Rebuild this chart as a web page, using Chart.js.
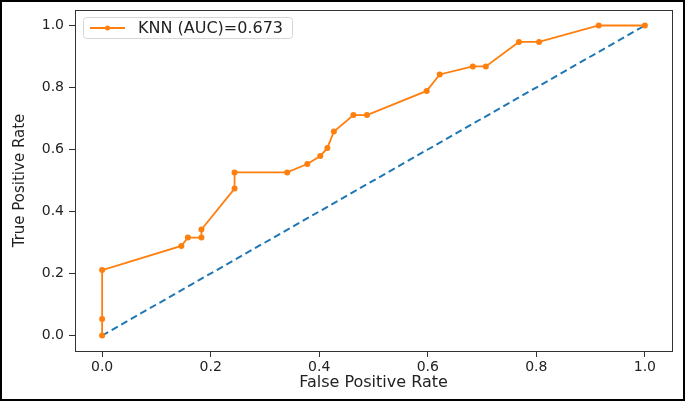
<!DOCTYPE html>
<html>
<head>
<meta charset="utf-8">
<script src="https://cdn.jsdelivr.net/npm/chart.js@4/dist/chart.umd.min.js"></script>
<style>
  html, body { margin: 0; padding: 0; background: #fff; }
  .frame {
    width: 685px;
    height: 401px;
    box-sizing: border-box;
    border: 2px solid #000;
    background: #fff;
  }
  canvas { display: block; }
</style>
</head>
<body>
<div class="frame">
  <canvas id="roc" width="681" height="397"></canvas>
</div>
<script>
// ROC curve
const fpr = [0, 0, 0, 0.146, 0.158, 0.183, 0.183, 0.244, 0.244, 0.341, 0.378, 0.402,
  0.415, 0.427, 0.463, 0.488, 0.598, 0.622, 0.683, 0.707, 0.768, 0.805, 0.915, 1.0];
const tpr = [0, 0.053, 0.211, 0.289, 0.316, 0.316, 0.342, 0.474, 0.526, 0.526, 0.553, 0.579,
  0.605, 0.658, 0.711, 0.711, 0.789, 0.842, 0.868, 0.868, 0.947, 0.947, 1.0, 1.0];
const chanceX = [0, 1];
const chanceY = [0, 1];
const xTicks = [0, 0.2, 0.4, 0.6, 0.8, 1.0];
const yTicks = [0, 0.2, 0.4, 0.6, 0.8, 1.0];
const legendLabel = "KNN (AUC)=0.673";
const xTitle = "False Positive Rate";
const yTitle = "True Positive Rate";

const ORANGE = "#ff7f0e";
const BLUE = "#1f77b4";
const INK = "#222";
const FONT = "'DejaVu Sans', sans-serif";

// matplotlib style box: spines on all four sides plus a framed legend
const framePlugin = {
  id: "frame",
  afterDatasetsDraw(chart) {
    const { ctx, chartArea: ca } = chart;
    ctx.save();
    ctx.strokeStyle = "#333";
    ctx.lineWidth = 1;
    ctx.strokeRect(ca.left + 0.5, ca.top + 0.5, ca.right - ca.left, ca.bottom - ca.top);

    // legend
    ctx.font = "16px " + FONT;
    const tw = ctx.measureText(legendLabel).width;
    const bx = ca.left + 8, by = ca.top + 7, bh = 21, bw = 56 + tw + 8;
    ctx.beginPath();
    ctx.roundRect(bx + 0.5, by + 0.5, bw, bh, 3);
    ctx.fillStyle = "rgba(255,255,255,0.8)";
    ctx.fill();
    ctx.strokeStyle = "#d6d6d6";
    ctx.stroke();

    const my = by + bh / 2 + 0.5;
    ctx.beginPath();
    ctx.moveTo(bx + 7, my);
    ctx.lineTo(bx + 42, my);
    ctx.strokeStyle = ORANGE;
    ctx.lineWidth = 1.8;
    ctx.stroke();
    ctx.beginPath();
    ctx.arc(bx + 24.5, my, 2.5, 0, Math.PI * 2);
    ctx.fillStyle = ORANGE;
    ctx.fill();

    ctx.fillStyle = INK;
    ctx.textBaseline = "middle";
    ctx.fillText(legendLabel, bx + 55, my + 1);
    ctx.restore();
  },
};

function axis(ticks, title, fixed, horizontal) {
  return {
    type: "linear",
    min: -0.05,
    max: 1.05,
    afterBuildTicks(scale) {
      scale.ticks = ticks.map((v) => ({ value: v }));
    },
    afterFit(scale) {
      if (horizontal) scale.height = fixed;
      else scale.width = fixed;
      // ticks never sit on the edges, so no overflow padding is needed
      scale.paddingTop = 0;
      scale.paddingBottom = 0;
      scale.paddingLeft = 0;
      scale.paddingRight = 0;
    },
    grid: {
      display: true,
      drawOnChartArea: false,
      drawTicks: true,
      tickLength: 6,
      tickColor: "#333",
    },
    border: { display: true, color: "#333", width: 1 },
    ticks: {
      color: INK,
      font: { family: FONT, size: 14 },
      padding: horizontal ? 2 : 5,
      maxRotation: 0,
      autoSkip: false,
      callback: (v) => Number(v).toFixed(1),
    },
    title: {
      display: true,
      text: title,
      color: INK,
      font: { family: FONT, size: horizontal ? 16 : 15 },
      padding: horizontal ? { top: 0, bottom: 7 } : { top: 9, bottom: 0 },
    },
  };
}

new Chart(document.getElementById("roc"), {
  type: "line",
  data: {
    datasets: [
      {
        label: legendLabel,
        data: fpr.map((x, i) => ({ x, y: tpr[i] })),
        borderColor: ORANGE,
        backgroundColor: ORANGE,
        borderWidth: 1.8,
        pointRadius: 3,
        pointBorderWidth: 0,
        pointBackgroundColor: ORANGE,
        tension: 0,
        fill: false,
      },
      {
        label: "chance",
        data: chanceX.map((x, i) => ({ x, y: chanceY[i] })),
        borderColor: BLUE,
        borderWidth: 2,
        borderDash: [7, 4],
        pointRadius: 0,
        tension: 0,
        fill: false,
      },
    ],
  },
  options: {
    responsive: false,
    animation: false,
    events: [],
    layout: { padding: { top: 8, right: 11, left: 0, bottom: 0 } },
    plugins: {
      legend: { display: false },
      tooltip: { enabled: false },
    },
    scales: {
      x: axis(xTicks, xTitle, 48, true),
      y: axis(yTicks, yTitle, 73, false),
    },
  },
  plugins: [framePlugin],
});
</script>
</body>
</html>
